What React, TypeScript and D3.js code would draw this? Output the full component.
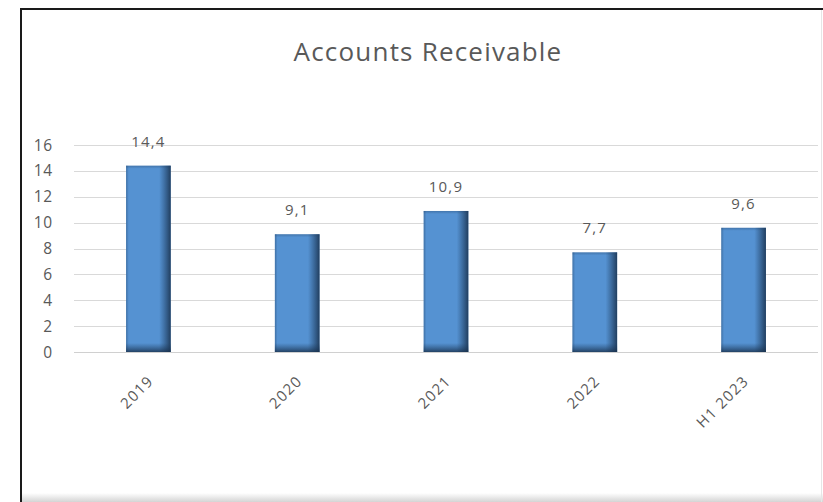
import { useEffect, useRef } from "react";
import * as d3 from "d3";

const categories = ["2019", "2020", "2021", "2022", "H1 2023"];
const receivables = [14.4, 9.1, 10.9, 7.7, 9.6];
const yTicks = [0, 2, 4, 6, 8, 10, 12, 14, 16];
const chartTitle = "Accounts Receivable";

const W = 823;
const H = 502;
const FONT = "'Open Sans', 'Noto Sans', sans-serif";
const TEXT = "#595959";

export default function App() {
  const svgRef = useRef<SVGSVGElement>(null);

  useEffect(() => {
    if (!svgRef.current) return;
    const svg = d3.select(svgRef.current);
    svg.selectAll("*").remove();

    const x = d3
      .scaleBand<string>()
      .domain(categories)
      .range([74, 818])
      .paddingInner(0.7)
      .paddingOuter(0.35);
    const y = d3.scaleLinear().domain([0, 16]).range([352, 145]);

    const defs = svg.append("defs");
    const hGrad = defs.append("linearGradient").attr("id", "barH");
    hGrad.append("stop").attr("offset", "0%").attr("stop-color", "#1f3f63").attr("stop-opacity", 0.4);
    hGrad.append("stop").attr("offset", "6%").attr("stop-color", "#1f3f63").attr("stop-opacity", 0);
    hGrad.append("stop").attr("offset", "74%").attr("stop-color", "#1f3f63").attr("stop-opacity", 0);
    hGrad.append("stop").attr("offset", "100%").attr("stop-color", "#182f4a").attr("stop-opacity", 0.85);

    // vertical shading: a few pixels dark at the bottom, a hint at the top
    receivables.forEach((v, i) => {
      const h = y(0) - y(v);
      const g = defs
        .append("linearGradient")
        .attr("id", `barV${i}`)
        .attr("x1", 0)
        .attr("y1", 0)
        .attr("x2", 0)
        .attr("y2", 1);
      g.append("stop").attr("offset", "0%").attr("stop-color", "#1f3f63").attr("stop-opacity", 0.35);
      g.append("stop").attr("offset", 3 / h).attr("stop-color", "#1f3f63").attr("stop-opacity", 0);
      g.append("stop").attr("offset", 1 - 9 / h).attr("stop-color", "#1f3f63").attr("stop-opacity", 0);
      g.append("stop").attr("offset", "100%").attr("stop-color", "#182f4a").attr("stop-opacity", 0.8);
    });

    const shade = defs
      .append("linearGradient")
      .attr("id", "bottomShade")
      .attr("x1", 0)
      .attr("y1", 0)
      .attr("x2", 0)
      .attr("y2", 1);
    shade.append("stop").attr("offset", "0%").attr("stop-color", "#ffffff");
    shade.append("stop").attr("offset", "100%").attr("stop-color", "#d4d4d4");

    // frame
    svg.append("rect").attr("width", W).attr("height", H).attr("fill", "#ffffff");
    svg
      .append("rect")
      .attr("x", 20)
      .attr("y", 493)
      .attr("width", W - 20)
      .attr("height", 9)
      .attr("fill", "url(#bottomShade)");
    svg
      .append("line")
      .attr("x1", 821.5)
      .attr("x2", 821.5)
      .attr("y1", 8)
      .attr("y2", H)
      .attr("stroke", "#e6e6e6");
    svg
      .append("path")
      .attr("d", `M21,${H}V9H${W}`)
      .attr("fill", "none")
      .attr("stroke", "#1a1a1a")
      .attr("stroke-width", 2);

    svg
      .append("text")
      .attr("x", 428)
      .attr("y", 61)
      .attr("text-anchor", "middle")
      .attr("font-family", FONT)
      .attr("font-size", 26)
      .attr("letter-spacing", 1.2)
      .attr("fill", TEXT)
      .text(chartTitle);

    // grid
    svg
      .append("g")
      .selectAll("line")
      .data(yTicks)
      .join("line")
      .attr("x1", 74)
      .attr("x2", 818)
      .attr("y1", (d) => Math.round(y(d)) + 0.5)
      .attr("y2", (d) => Math.round(y(d)) + 0.5)
      .attr("stroke", (d) => (d === 0 ? "#d0d0d0" : "#d9d9d9"))
      .attr("stroke-width", 1);

    svg
      .append("g")
      .selectAll("text")
      .data(yTicks)
      .join("text")
      .attr("x", 53)
      .attr("y", (d) => y(d))
      .attr("dy", "0.36em")
      .attr("text-anchor", "end")
      .attr("font-family", FONT)
      .attr("font-size", 15.5)
      .attr("letter-spacing", 0.8)
      .attr("fill", TEXT)
      .text((d) => d);

    // bars
    const bars = svg
      .append("g")
      .selectAll("g")
      .data(receivables)
      .join("g");
    bars
      .append("rect")
      .attr("x", (_, i) => x(categories[i])!)
      .attr("y", (d) => y(d))
      .attr("width", x.bandwidth())
      .attr("height", (d) => y(0) - y(d))
      .attr("fill", "#5592d2");
    bars
      .append("rect")
      .attr("x", (_, i) => x(categories[i])!)
      .attr("y", (d) => y(d))
      .attr("width", x.bandwidth())
      .attr("height", (d) => y(0) - y(d))
      .attr("fill", "url(#barH)");
    bars
      .append("rect")
      .attr("x", (_, i) => x(categories[i])!)
      .attr("y", (d) => y(d))
      .attr("width", x.bandwidth())
      .attr("height", (d) => y(0) - y(d))
      .attr("fill", (_, i) => `url(#barV${i})`);

    bars
      .append("text")
      .attr("x", (_, i) => x(categories[i])! + x.bandwidth() / 2)
      .attr("y", (d) => y(d) - 19)
      .attr("text-anchor", "middle")
      .attr("font-family", FONT)
      .attr("font-size", 15)
      .attr("letter-spacing", 1.2)
      .attr("fill", TEXT)
      .text((d) => d3.format(".1f")(d).replace(".", ","));

    // x labels
    svg
      .append("g")
      .selectAll("text")
      .data(categories)
      .join("text")
      .attr(
        "transform",
        (d) => `translate(${x(d)! + x.bandwidth() / 2 + 6},${382}) rotate(-45)`
      )
      .attr("text-anchor", "end")
      .attr("font-family", FONT)
      .attr("font-size", 15)
      .attr("letter-spacing", 1.2)
      .attr("fill", TEXT)
      .text((d) => d);
  }, []);

  return (
    <div style={{ position: "fixed", left: 0, top: 0 }}>
      <svg ref={svgRef} width={W} height={H} style={{ display: "block" }} />
    </div>
  );
}
